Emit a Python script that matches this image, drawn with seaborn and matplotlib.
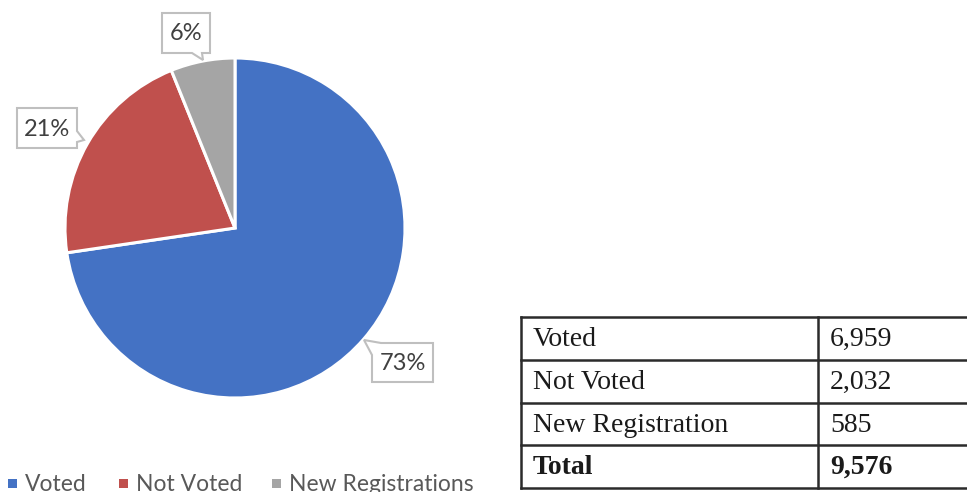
import matplotlib
matplotlib.use("Agg")
import matplotlib.pyplot as plt
import seaborn as sns
from matplotlib.patches import Polygon, Rectangle

# Vote breakdown
categories = ["Voted", "Not Voted", "New Registrations"]
counts = [6959, 2032, 585]
colors = ["#4472C4", "#C0504D", "#A5A5A5"]

# Summary table rows
table_labels = ["Voted", "Not Voted", "New Registration"]
total_label = "Total"

sns.set_theme(style="white")
plt.rcParams["font.family"] = ["Lato", "DejaVu Sans"]

W, H = 967, 492
fig = plt.figure(figsize=(W / 100, H / 100), dpi=100)
ax = fig.add_axes([0, 0, 1, 1])


def Y(y):
    """Convert a top-down pixel row into the axes' data y."""
    return H - y


# Pie: voted slice starts at twelve o'clock and runs clockwise
wedges, _ = ax.pie(
    counts,
    colors=colors,
    startangle=90,
    counterclock=False,
    center=(235, Y(228)),
    radius=170,
    wedgeprops=dict(edgecolor="white", linewidth=2.2),
    frame=True,
)
ax.set_xlim(0, W)
ax.set_ylim(0, H)
ax.axis("off")

# Percentage call-outs
total = sum(counts)
pcts = [f"{round(c / total * 100)}%" for c in counts]

callouts = [
    # polygon outline with notch, text centre
    ([(372, 382), (372, 355), (364, 340), (381, 343), (433, 343), (433, 382)],
     (402.5, 363)),
    ([(17, 108), (77, 108), (77, 131), (84, 140), (77, 142), (77, 148), (17, 148)],
     (47, 129)),
    ([(162, 13), (210, 13), (210, 53), (202, 53), (203, 60), (192, 53), (162, 53)],
     (186, 34)),
]
for label, (outline, (tx, ty)) in zip(pcts, callouts):
    poly = Polygon([(x, Y(y)) for x, y in outline], closed=True,
                   facecolor="white", edgecolor="#BFBFBF", linewidth=1.5,
                   zorder=5)
    ax.add_patch(poly)
    ax.text(tx, Y(ty), label, ha="center", va="center", fontsize=17,
            color="#404040", zorder=6)

# Legend along the bottom edge
leg_x = [8, 119, 272]
for x0, name, col in zip(leg_x, categories, colors):
    ax.add_patch(Rectangle((x0, Y(488)), 9, 9, facecolor=col, edgecolor="none"))
    ax.text(x0 + 17, Y(491), name, ha="left", va="baseline", fontsize=16.5,
            color="#595959")

# Summary table
tx0, tx1, tcol = 521, 975, 818
rows_y = [317, 360, 403, 445, 488]
line_kw = dict(color="#2b2b2b", linewidth=1.8, solid_capstyle="projecting")
for y in rows_y:
    ax.plot([tx0, tx1], [Y(y), Y(y)], **line_kw)
ax.plot([tx0, tx0], [Y(rows_y[0]), Y(rows_y[-1])], **line_kw)
ax.plot([tcol, tcol], [Y(rows_y[0]), Y(rows_y[-1])], **line_kw)

serif = ["Liberation Serif", "DejaVu Serif"]
row_texts = list(zip(table_labels, [f"{c:,}" for c in counts])) + \
    [(total_label, f"{total:,}")]
for i, (lab, val) in enumerate(row_texts):
    yc = (rows_y[i] + rows_y[i + 1]) / 2 + 1
    weight = "bold" if i == len(row_texts) - 1 else "normal"
    ax.text(533, Y(yc), lab, ha="left", va="center", fontsize=20,
            family=serif, color="#1a1a1a", fontweight=weight)
    ax.text(830, Y(yc), val, ha="left", va="center", fontsize=20,
            family=serif, color="#1a1a1a", fontweight=weight)

fig.savefig("out.png", dpi=100, facecolor="white")
